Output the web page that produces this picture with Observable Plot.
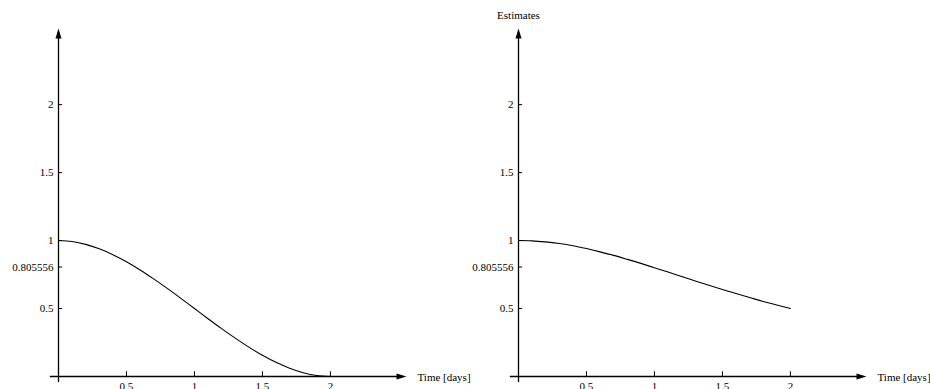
<!DOCTYPE html>
<html>
<head>
<meta charset="utf-8">
<script src="https://cdn.jsdelivr.net/npm/d3@7"></script>
<script src="https://cdn.jsdelivr.net/npm/@observablehq/plot@0.6"></script>
<style>
  html, body { margin: 0; padding: 0; background: white; }
  #wrap { display: flex; flex-direction: row; width: 930px; height: 389px; overflow: hidden; }
  #wrap svg { overflow: visible; background: transparent !important; }
</style>
</head>
<body>
<div id="wrap"></div>
<script>
// ---- data ----
const time = [0, 0.1, 0.2, 0.3, 0.4, 0.5, 0.6, 0.7, 0.8, 0.9, 1.0, 1.1, 1.2, 1.3, 1.4, 1.5, 1.6, 1.7, 1.8, 1.9, 2.0];
const leftValues = [1.000, 0.993, 0.972, 0.939, 0.896, 0.844, 0.784, 0.718, 0.648, 0.575, 0.500,
                    0.425, 0.352, 0.282, 0.216, 0.156, 0.104, 0.061, 0.028, 0.007, 0.000];
const rightValues = [1.000, 0.998, 0.990, 0.978, 0.962, 0.941, 0.917, 0.891, 0.862, 0.832, 0.800,
                     0.768, 0.735, 0.703, 0.671, 0.640, 0.610, 0.581, 0.552, 0.526, 0.500];
const xTicks = [0.5, 1, 1.5, 2];
const xTickLabels = ["0.5", "1", "1.5", "2"];
const yTicks = [0.5, 0.805556, 1, 1.5, 2];
const yTickLabels = ["0.5", "0.805556", "1", "1.5", "2"];
const xLabel = "Time [days]";
const yTitle = ["", "Estimates"];

const axisMax = 2.56;
const arrowUp = {
  draw(context) {
    context.moveTo(0, 0);
    context.lineTo(-3, 10);
    context.lineTo(3, 10);
    context.closePath();
  }
};

function panel(values, width, title) {
  const data = time.map((t, i) => ({t, v: values[i]}));
  const marks = [
    // axis lines
    Plot.ruleY([0], {x1: -0.06, x2: axisMax - 0.03, stroke: "black", strokeWidth: 1.3}),
    Plot.ruleX([0], {y1: -0.045, y2: axisMax - 0.03, stroke: "black", strokeWidth: 1.3}),
    // arrowheads
    Plot.dot([{x: axisMax, y: 0}], {x: "x", y: "y", symbol: arrowUp, rotate: 90, fill: "black", stroke: "none"}),
    Plot.dot([{x: 0, y: axisMax}], {x: "x", y: "y", symbol: arrowUp, rotate: 0, fill: "black", stroke: "none"}),
    // tick marks
    Plot.ruleY(yTicks, {x1: 0, x2: 0.03, stroke: "black", strokeWidth: 1}),
    Plot.ruleX(xTicks, {y1: 0, y2: 0.035, stroke: "black", strokeWidth: 1}),
    // tick labels
    Plot.axisY({ticks: yTicks, tickSize: 0, tickPadding: 5, label: null,
                tickFormat: (d) => yTickLabels[yTicks.indexOf(d)], fontSize: 11}),
    Plot.axisX({ticks: xTicks, tickSize: 0, tickPadding: 6, label: null,
                tickFormat: (d) => xTickLabels[xTicks.indexOf(d)], fontSize: 11}),
    // axis label
    Plot.text([xLabel], {x: axisMax, y: 0, dx: 11, dy: 1, text: d => d, textAnchor: "start", fontSize: 11, fill: "black"}),
    // curve
    Plot.line(data, {x: "t", y: "v", stroke: "black", strokeWidth: 1.1, curve: "monotone-x"})
  ];
  if (title) {
    marks.push(Plot.text([title], {x: 0, y: axisMax, dy: -13, text: d => d, textAnchor: "middle", fontSize: 11, fill: "black"}));
  }
  return Plot.plot({
    width,
    height: 389,
    marginLeft: 58,
    marginRight: width - 58 - 348,
    marginTop: 28,
    marginBottom: 13,
    x: {domain: [0, axisMax], range: [58, 406]},
    y: {domain: [0, axisMax], range: [376, 28]},
    style: {fontFamily: "'Liberation Serif', 'DejaVu Serif', serif", fontSize: "11px", color: "black", background: "transparent", overflow: "visible"},
    marks
  });
}

const wrap = document.getElementById("wrap");
wrap.appendChild(panel(leftValues, 460, yTitle[0]));
wrap.appendChild(panel(rightValues, 470, yTitle[1]));
</script>
</body>
</html>
